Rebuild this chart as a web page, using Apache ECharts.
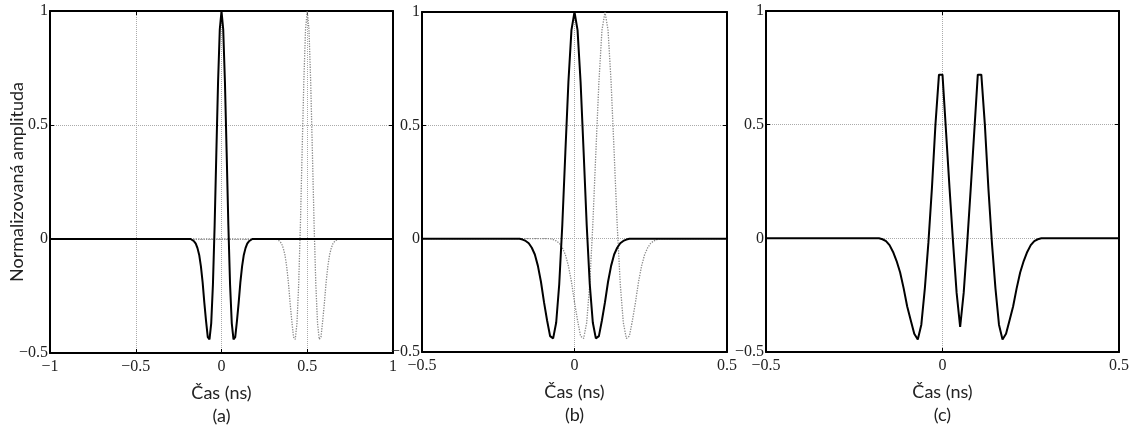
<!DOCTYPE html>
<html>
<head>
    <meta charset="utf-8">
    <title>Impulzy</title>
    <script src="https://cdn.jsdelivr.net/npm/echarts@6.0.0/dist/echarts.min.js"></script>
    <style>
        html, body { margin: 0; padding: 0; background: #ffffff; }
        #chart { width: 1136px; height: 425px; }
    </style>
</head>
<body>
<div id="chart"></div>
<script>
    // základní impulz (a, b - plná čára)
    var pulseTime = [-1, -0.18, -0.17, -0.16, -0.15, -0.14, -0.13, -0.12, -0.11, -0.10, -0.09, -0.08, -0.07, -0.06, -0.05, -0.04, -0.03, -0.02, -0.01,
        0, 0.01, 0.02, 0.03, 0.04, 0.05, 0.06, 0.07, 0.08, 0.09, 0.10, 0.11, 0.12, 0.13, 0.14, 0.15, 0.16, 0.17, 0.18, 1];
    var pulseAmp = [0, 0, -0.004, -0.01, -0.02, -0.04, -0.07, -0.12, -0.19, -0.28, -0.36, -0.43, -0.44, -0.37, -0.20, 0.06, 0.38, 0.69, 0.92,
        1, 0.92, 0.69, 0.38, 0.06, -0.20, -0.37, -0.44, -0.43, -0.36, -0.28, -0.19, -0.12, -0.07, -0.04, -0.02, -0.01, -0.004, 0, 0];

    // posunutý impulz (a - tečkovaně, střed 0.5 ns)
    var echoTimeA = [-1, 0.32, 0.33, 0.34, 0.35, 0.36, 0.37, 0.38, 0.39, 0.40, 0.41, 0.42, 0.43, 0.44, 0.45, 0.46, 0.47, 0.48, 0.49,
        0.5, 0.51, 0.52, 0.53, 0.54, 0.55, 0.56, 0.57, 0.58, 0.59, 0.60, 0.61, 0.62, 0.63, 0.64, 0.65, 0.66, 0.67, 0.68, 1];

    // posunutý impulz (b - tečkovaně, střed 0.1 ns)
    var echoTimeB = [-1, -0.08, -0.07, -0.06, -0.05, -0.04, -0.03, -0.02, -0.01, 0, 0.01, 0.02, 0.03, 0.04, 0.05, 0.06, 0.07, 0.08, 0.09,
        0.1, 0.11, 0.12, 0.13, 0.14, 0.15, 0.16, 0.17, 0.18, 0.19, 0.20, 0.21, 0.22, 0.23, 0.24, 0.25, 0.26, 0.27, 0.28, 1];

    // součet (c)
    var sumTime = [-0.5, -0.18, -0.17, -0.16, -0.15, -0.14, -0.13, -0.12, -0.11, -0.10, -0.09, -0.08, -0.07, -0.06, -0.05, -0.04, -0.03, -0.02, -0.01,
        0, 0.01, 0.02, 0.03, 0.04, 0.05, 0.06, 0.07, 0.08, 0.09, 0.10, 0.11, 0.12, 0.13, 0.14, 0.15, 0.16, 0.17, 0.18, 0.19,
        0.20, 0.21, 0.22, 0.23, 0.24, 0.25, 0.26, 0.27, 0.28, 0.5];
    var sumAmp = [0, 0, -0.004, -0.012, -0.03, -0.06, -0.10, -0.15, -0.22, -0.30, -0.36, -0.42, -0.445, -0.38, -0.22, -0.02, 0.22, 0.50, 0.72,
        0.72, 0.47, 0.22, -0.02, -0.24, -0.39, -0.24, -0.02, 0.22, 0.47, 0.72, 0.72, 0.50, 0.22, -0.02, -0.22, -0.38, -0.445, -0.42, -0.36,
        -0.30, -0.22, -0.15, -0.10, -0.06, -0.03, -0.012, -0.004, 0, 0];

    var panelNames = ['(a)', '(b)', '(c)'];
    var xRanges = [[-1, 1], [-0.5, 0.5], [-0.5, 0.5]];

    function zip(xs, ys) {
        var out = [];
        for (var i = 0; i < xs.length; i++) {
            out.push([xs[i], ys[i]]);
        }
        return out;
    }

    function fmt(v) {
        return String(v).replace('-', '\u2212');
    }

    var serif = '"Liberation Serif", "DejaVu Serif", serif';
    var sans = 'Lato, "Open Sans", sans-serif';

    // outerBoundsMode none, jinak v6 zmenší plochu kvůli popiskům
    var grids = [
        {left: 50, top: 11, width: 343, height: 342, outerBoundsMode: 'none'},
        {left: 422, top: 12, width: 305, height: 340, outerBoundsMode: 'none'},
        {left: 766, top: 11, width: 353, height: 341, outerBoundsMode: 'none'}
    ];

    var xAxes = [], yAxes = [];
    for (var g = 0; g < 3; g++) {
        // spodní osa s popisky
        xAxes.push({
            type: 'value', gridIndex: g, position: 'bottom',
            min: xRanges[g][0], max: xRanges[g][1], interval: 0.5,
            name: 'Čas (ns)\n' + panelNames[g], nameLocation: 'middle', nameGap: 29,
            nameMoveOverlap: false,
            nameTextStyle: {fontFamily: sans, fontSize: 18, color: '#222', lineHeight: 23, verticalAlign: 'top'},
            axisLine: {show: true, onZero: false, lineStyle: {color: '#000', width: 2}},
            axisTick: {show: true, inside: true, length: 4, lineStyle: {color: '#000'}},
            axisLabel: {fontFamily: serif, fontSize: 16, color: '#222', margin: 6, formatter: fmt},
            splitLine: {show: true, lineStyle: {type: 'dotted', color: '#aaa', width: 1}}
        });
        // horní osa jen kvůli rámečku a značkám
        xAxes.push({
            type: 'value', gridIndex: g, position: 'top',
            min: xRanges[g][0], max: xRanges[g][1], interval: 0.5,
            axisLine: {show: true, onZero: false, lineStyle: {color: '#000', width: 2}},
            axisTick: {show: true, inside: true, length: 4, lineStyle: {color: '#000'}},
            axisLabel: {show: false},
            splitLine: {show: false}
        });
        yAxes.push({
            type: 'value', gridIndex: g, position: 'left',
            min: -0.5, max: 1, interval: 0.5,
            name: g === 0 ? 'Normalizovaná amplituda' : '', nameLocation: 'middle', nameGap: 24,
            nameMoveOverlap: false,
            nameTextStyle: {fontFamily: sans, fontSize: 18, color: '#222'},
            axisLine: {show: true, onZero: false, lineStyle: {color: '#000', width: 2}},
            axisTick: {show: true, inside: true, length: 4, lineStyle: {color: '#000'}},
            axisLabel: {fontFamily: serif, fontSize: 16, color: '#222', margin: 2, formatter: fmt},
            splitLine: {show: true, lineStyle: {type: 'dotted', color: '#aaa', width: 1}}
        });
        yAxes.push({
            type: 'value', gridIndex: g, position: 'right',
            min: -0.5, max: 1, interval: 0.5,
            axisLine: {show: true, onZero: false, lineStyle: {color: '#000', width: 2}},
            axisTick: {show: true, inside: true, length: 4, lineStyle: {color: '#000'}},
            axisLabel: {show: false},
            splitLine: {show: false}
        });
    }

    function solid(data, g) {
        return {
            type: 'line', xAxisIndex: g * 2, yAxisIndex: g * 2, data: data,
            showSymbol: false, symbol: 'none', clip: true, z: 3,
            lineStyle: {color: '#000', width: 2}
        };
    }

    function dotted(data, g) {
        return {
            type: 'line', xAxisIndex: g * 2, yAxisIndex: g * 2, data: data,
            showSymbol: false, symbol: 'none', clip: true, z: 2,
            lineStyle: {color: '#888', width: 1.3, type: 'dotted'}
        };
    }

    var chart = echarts.init(document.getElementById('chart'));
    var option = {
        animation: false,
        backgroundColor: '#ffffff',
        grid: grids,
        xAxis: xAxes,
        yAxis: yAxes,
        series: [
            dotted(zip(echoTimeA, pulseAmp), 0),
            solid(zip(pulseTime, pulseAmp), 0),
            dotted(zip(echoTimeB, pulseAmp), 1),
            solid(zip(pulseTime, pulseAmp), 1),
            solid(zip(sumTime, sumAmp), 2)
        ]
    };
    chart.setOption(option);
</script>
</body>
</html>
